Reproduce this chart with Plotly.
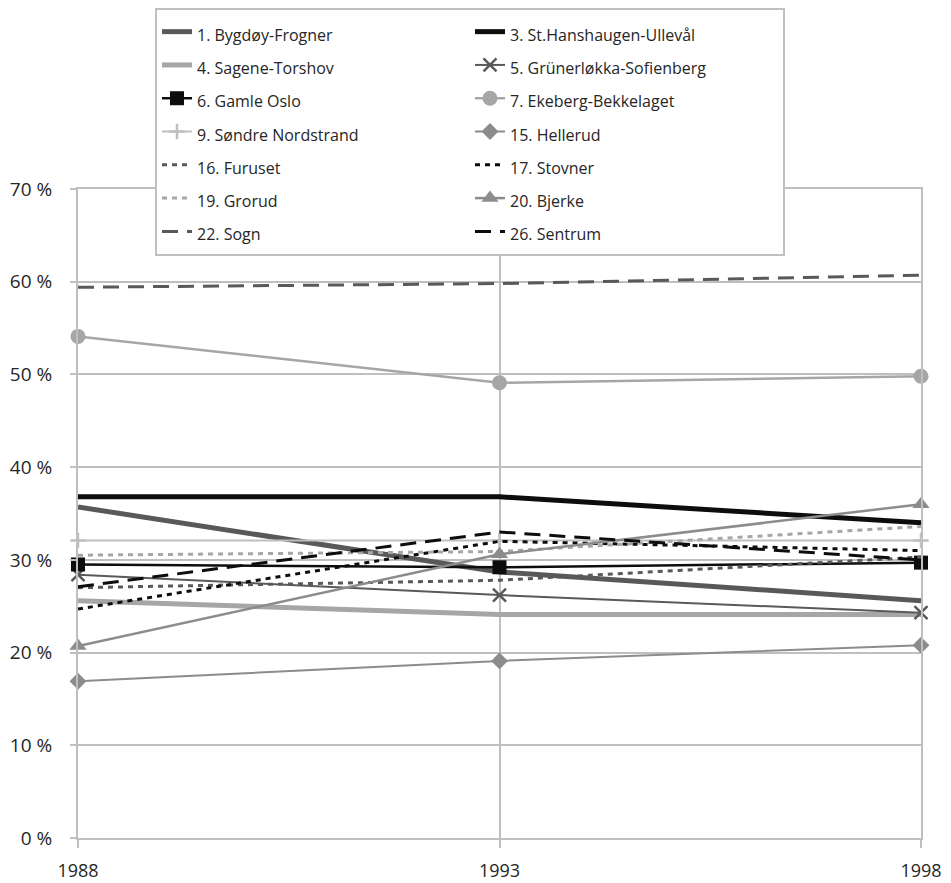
import plotly.graph_objects as go

years = [1988, 1993, 1998]
names = ["1. Bygdøy-Frogner", "3. St.Hanshaugen-Ullevål", "4. Sagene-Torshov",
         "5. Grünerløkka-Sofienberg", "6. Gamle Oslo", "7. Ekeberg-Bekkelaget",
         "9. Søndre Nordstrand", "15. Hellerud", "16. Furuset", "17. Stovner",
         "19. Grorud", "20. Bjerke", "22. Sogn", "26. Sentrum"]
bygdoy = [35.7, 28.7, 25.6]
sthanshaugen = [36.8, 36.8, 34.0]
sagene = [25.6, 24.1, 24.1]
grunerlokka = [28.4, 26.2, 24.3]
gamle_oslo = [29.5, 29.2, 29.7]
ekeberg = [54.1, 49.1, 49.8]
sondre = [32.1, 32.1, 32.1]
hellerud = [16.9, 19.1, 20.8]
furuset = [27.0, 27.8, 30.3]
stovner = [24.7, 32.0, 31.0]
grorud = [30.5, 30.9, 33.6]
bjerke = [20.7, 30.6, 36.0]
sogn = [59.4, 59.8, 60.7]
sentrum = [27.1, 33.0, 30.0]
series = [bygdoy, sthanshaugen, sagene, grunerlokka, gamle_oslo, ekeberg, sondre,
          hellerud, furuset, stovner, grorud, bjerke, sogn, sentrum]

styles = [
    dict(color="#595959", width=5, dash="solid", symbol=None, size=0),
    dict(color="#0d0d0d", width=5, dash="solid", symbol=None, size=0),
    dict(color="#a6a6a6", width=5, dash="solid", symbol=None, size=0),
    dict(color="#595959", width=2, dash="solid", symbol="x-thin", size=13),
    dict(color="#0d0d0d", width=2.5, dash="solid", symbol="square", size=14),
    dict(color="#a6a6a6", width=2.5, dash="solid", symbol="circle", size=15),
    dict(color="#bfbfbf", width=2, dash="solid", symbol="cross-thin", size=11),
    dict(color="#8c8c8c", width=2, dash="solid", symbol="diamond", size=13),
    dict(color="#595959", width=3, dash="5px,5px", symbol=None, size=0),
    dict(color="#0d0d0d", width=3, dash="5px,5px", symbol=None, size=0),
    dict(color="#a6a6a6", width=3, dash="5px,5px", symbol=None, size=0),
    dict(color="#8c8c8c", width=2.5, dash="solid", symbol="triangle-up", size=15),
    dict(color="#595959", width=3, dash="16px,9px", symbol=None, size=0),
    dict(color="#0d0d0d", width=3, dash="16px,9px", symbol=None, size=0),
]

fig = go.Figure()
for name, vals, st in zip(names, series, styles):
    kw = dict(mode="lines")
    if st["symbol"]:
        kw["mode"] = "lines+markers"
        thin = st["symbol"].endswith("thin")
        kw["marker"] = dict(symbol=st["symbol"], size=st["size"], color=st["color"],
                            line=dict(color=st["color"], width=2.5 if thin else 0))
    fig.add_trace(go.Scatter(
        x=years, y=vals,
        name='<span style="font-size:16px">' + name + '</span>',
        line=dict(color=st["color"], width=st["width"], dash=st["dash"]),
        cliponaxis=False, **kw))

fig.update_layout(
    width=943, height=875,
    margin=dict(l=70, r=30, t=181, b=45, autoexpand=False),
    paper_bgcolor="white", plot_bgcolor="white",
    font=dict(family="Open Sans", size=18, color="#262626"),
    showlegend=True,
    legend=dict(orientation="h", x=(147 - 70) / 843, xanchor="left",
                yref="container", y=1, yanchor="top",
                bgcolor="white", bordercolor="#bfbfbf", borderwidth=2,
                entrywidth=268, entrywidthmode="pixels",
                font=dict(family="Open Sans", size=23.3, color="#262626")),
    xaxis=dict(range=[1988, 1998], tickvals=years, ticktext=[str(y) for y in years],
               showgrid=True, gridcolor="#bfbfbf", gridwidth=2,
               zeroline=False, showline=True, mirror=True,
               linecolor="#bfbfbf", linewidth=2,
               ticks="outside", ticklen=8, tickcolor="#bfbfbf", tickwidth=2,
               ticklabelstandoff=7, tickfont=dict(size=18)),
    yaxis=dict(range=[0, 70], dtick=10, ticksuffix=" %",
               showgrid=True, gridcolor="#bfbfbf", gridwidth=2,
               zeroline=False, showline=True, mirror=True,
               linecolor="#bfbfbf", linewidth=2,
               ticks="outside", ticklen=6, tickcolor="#bfbfbf", tickwidth=2,
               ticklabelstandoff=14, tickfont=dict(size=19)),
)

fig.write_html("out.html")
